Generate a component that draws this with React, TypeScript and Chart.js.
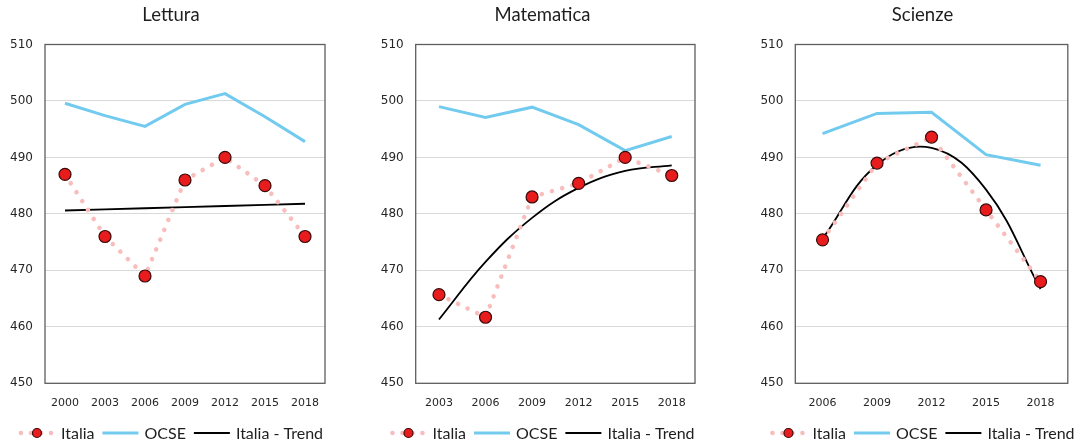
import React, { useEffect, useRef } from 'react';
import { Chart, registerables } from 'chart.js';

Chart.register(...registerables);

// ---- data ----
const letturaYears = ['2000', '2003', '2006', '2009', '2012', '2015', '2018'];
const letturaItalia = [487, 476, 469, 486, 490, 485, 476];
const letturaOcse = [499.6, 497.4, 495.5, 499.4, 501.3, 497.2, 492.8];
const letturaTrend = [480.6, 480.8, 481.0, 481.2, 481.4, 481.6, 481.8];

const matematicaYears = ['2003', '2006', '2009', '2012', '2015', '2018'];
const matematicaItalia = [465.7, 461.7, 483.0, 485.4, 490.0, 486.8];
const matematicaOcse = [499.0, 497.1, 498.9, 495.8, 491.2, 493.7];
const matematicaTrend = [461.3, 471.5, 479.3, 484.6, 487.6, 488.6];

const scienzeYears = ['2006', '2009', '2012', '2015', '2018'];
const scienzeItalia = [475.4, 489.0, 493.6, 480.7, 468.0];
const scienzeOcse = [494.2, 497.8, 498.0, 490.5, 488.6];
const scienzeTrend = [475.6, 488.7, 491.7, 484.3, 466.7];

const yMin = 450;
const yMax = 510;
const yStep = 10;

const seriesNames = ['Italia', 'OCSE', 'Italia - Trend'];

// ---- styles ----
const PINK = '#F8BDBD';
const RED = '#E81C1C';
const MARKER_BORDER = '#3A0A0A';
const BLUE = '#72CBEF';
const BLACK = '#000000';
const TEXT = '#1E1E1E';
const TICK = '#262626';

type PanelProps = {
  title: string;
  years: string[];
  italia: number[];
  ocse: number[];
  trend: number[];
  left: number;
  width: number;
  yWidth: number;
  padRight: number;
  center: number;
  trendTension: number;
};

function drawItaliaSymbol(ctx: CanvasRenderingContext2D, x: number, y: number, w: number) {
  ctx.save();
  ctx.strokeStyle = PINK;
  ctx.lineWidth = 4.6;
  ctx.lineCap = 'round';
  ctx.setLineDash([0.001, 10]);
  ctx.beginPath();
  ctx.moveTo(x + 2, y);
  ctx.lineTo(x + w, y);
  ctx.stroke();
  ctx.setLineDash([]);
  ctx.beginPath();
  ctx.arc(x + w / 2, y, 4.5, 0, Math.PI * 2);
  ctx.fillStyle = RED;
  ctx.fill();
  ctx.lineWidth = 1.2;
  ctx.strokeStyle = MARKER_BORDER;
  ctx.stroke();
  ctx.restore();
}

function drawLineSymbol(ctx: CanvasRenderingContext2D, x: number, y: number, w: number, color: string, lw: number) {
  ctx.save();
  ctx.strokeStyle = color;
  ctx.lineWidth = lw;
  ctx.beginPath();
  ctx.moveTo(x, y);
  ctx.lineTo(x + w, y);
  ctx.stroke();
  ctx.restore();
}

function Panel(props: PanelProps) {
  const ref = useRef<HTMLCanvasElement | null>(null);

  useEffect(() => {
    if (!ref.current) return;
    const p = props;
    const decor = {
      id: 'decor',
      afterDraw(chart: any) {
        const ctx: CanvasRenderingContext2D = chart.ctx;
        const a = chart.chartArea;
        // plot border
        ctx.save();
        ctx.strokeStyle = '#5E5E5E';
        ctx.lineWidth = 1.3;
        ctx.strokeRect(a.left, a.top, a.right - a.left, a.bottom - a.top);
        // title
        ctx.fillStyle = TEXT;
        ctx.font = '18.5px Lato';
        ctx.textAlign = 'center';
        ctx.textBaseline = 'middle';
        ctx.fillText(p.title, p.center, 15);
        // legend
        ctx.font = '16px Lato';
        ctx.textAlign = 'left';
        const symW = 36;
        const gapSym = 6;
        const gapItem = 8;
        const widths = seriesNames.map((n) => ctx.measureText(n).width);
        let total = 0;
        widths.forEach((tw, i) => {
          total += symW + gapSym + tw + (i < widths.length - 1 ? gapItem : 0);
        });
        let x = p.center - total / 2;
        const y = 433;
        seriesNames.forEach((n, i) => {
          if (i === 0) drawItaliaSymbol(ctx, x, y, symW);
          else if (i === 1) drawLineSymbol(ctx, x, y, symW, BLUE, 3);
          else drawLineSymbol(ctx, x, y, symW, BLACK, 2);
          x += symW + gapSym;
          ctx.fillStyle = TEXT;
          ctx.fillText(n, x, y + 0.5);
          x += widths[i] + gapItem;
        });
        ctx.restore();
      },
    };

    const chart = new Chart(ref.current, {
      type: 'line',
      data: {
        labels: p.years,
        datasets: [
          {
            label: seriesNames[0],
            data: p.italia,
            borderColor: PINK,
            borderWidth: 4.6,
            borderDash: [0.001, 10.6],
            borderCapStyle: 'round',
            backgroundColor: RED,
            pointBackgroundColor: RED,
            pointBorderColor: MARKER_BORDER,
            pointBorderWidth: 1.2,
            pointRadius: 6,
            tension: 0,
            fill: false,
          },
          {
            label: seriesNames[1],
            data: p.ocse,
            borderColor: BLUE,
            borderWidth: 3,
            pointRadius: 0,
            tension: 0,
            fill: false,
          },
          {
            label: seriesNames[2],
            data: p.trend,
            borderColor: BLACK,
            borderWidth: 1.8,
            pointRadius: 0,
            tension: p.trendTension,
            fill: false,
          },
        ],
      },
      options: {
        responsive: false,
        animation: false,
        events: [],
        layout: { padding: { left: 0, right: p.padRight, top: 44.5, bottom: 22.5 } },
        plugins: {
          legend: { display: false },
          title: { display: false },
          tooltip: { enabled: false },
        },
        scales: {
          x: {
            type: 'category',
            offset: true,
            grid: { display: false, drawTicks: false },
            border: { display: false },
            ticks: {
              padding: 13,
              color: TICK,
              font: { family: 'DejaVu Sans', size: 11 },
              maxRotation: 0,
              autoSkip: false,
            },
          },
          y: {
            min: yMin,
            max: yMax,
            afterFit: (scale: any) => {
              scale.width = p.yWidth;
            },
            grid: { color: '#D9D9D9', lineWidth: 1, drawTicks: false },
            border: { display: false },
            ticks: {
              stepSize: yStep,
              padding: 12,
              color: TICK,
              font: { family: 'DejaVu Sans', size: 12 },
            },
          },
        },
      },
      plugins: [decor],
    } as any);

    return () => chart.destroy();
  }, []);

  return (
    <canvas
      ref={ref}
      width={props.width}
      height={445}
      style={{ position: 'absolute', left: props.left, top: 0, width: props.width, height: 445 }}
    />
  );
}

export default function App() {
  return (
    <div style={{ position: 'fixed', left: 0, top: 0, width: 1075, height: 445, background: '#fff', overflow: 'hidden' }}>
      <Panel
        title="Lettura"
        years={letturaYears}
        italia={letturaItalia}
        ocse={letturaOcse}
        trend={letturaTrend}
        left={0}
        width={345}
        yWidth={45}
        padRight={20}
        center={171}
        trendTension={0}
      />
      <Panel
        title="Matematica"
        years={matematicaYears}
        italia={matematicaItalia}
        ocse={matematicaOcse}
        trend={matematicaTrend}
        left={360}
        width={350}
        yWidth={55.7}
        padRight={15}
        center={182.5}
        trendTension={0.4}
      />
      <Panel
        title="Scienze"
        years={scienzeYears}
        italia={scienzeItalia}
        ocse={scienzeOcse}
        trend={scienzeTrend}
        left={720}
        width={355}
        yWidth={75.3}
        padRight={0.7}
        center={202.5}
        trendTension={0.4}
      />
    </div>
  );
}
